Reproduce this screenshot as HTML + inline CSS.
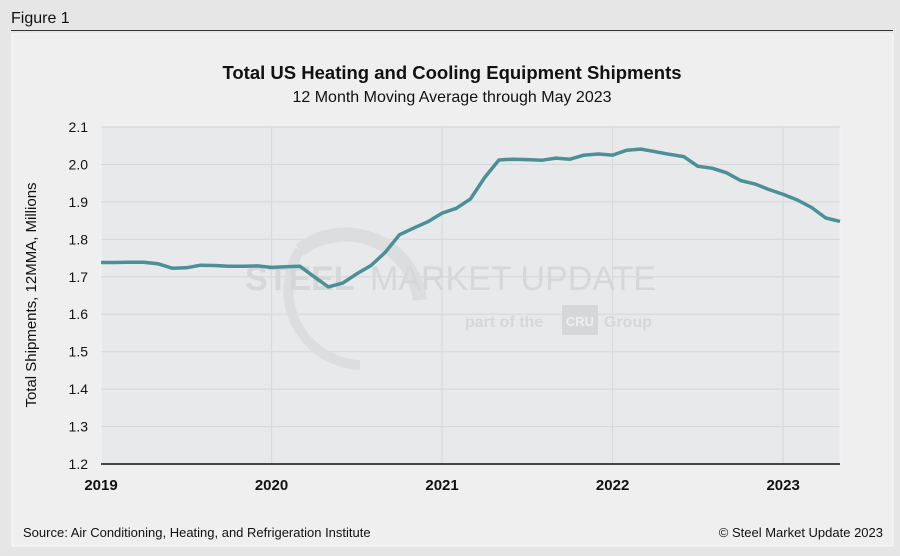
<!DOCTYPE html>
<html><head><meta charset="utf-8"><style>
body{margin:0;width:900px;height:551px;background:#e5e5e5;font-family:"Liberation Sans",sans-serif;overflow:hidden}
</style></head><body>
<svg width="900" height="551" xmlns="http://www.w3.org/2000/svg">
<rect x="0" y="0" width="900" height="551" fill="#e6e6e6"/>
<text x="11" y="23" font-size="16" fill="#111">Figure 1</text>
<line x1="11" y1="30.5" x2="893" y2="30.5" stroke="#333" stroke-width="1"/>
<rect x="12" y="34" width="881" height="512" fill="#efefef" stroke="#fafafa"/>
<text x="452" y="79" font-size="18.5" font-weight="bold" text-anchor="middle" fill="#111">Total US Heating and Cooling Equipment Shipments</text>
<text x="452" y="102" font-size="16" text-anchor="middle" fill="#111">12 Month Moving Average through May 2023</text>
<rect x="101" y="127" width="739" height="337" fill="#e8e9eb" stroke="#f3f3f3"/>
<g id="grid"></g>
<g>
<path d="M300 250 A75 75 0 0 1 420 300" fill="none" stroke="#dcdddf" stroke-width="14"/>
<path d="M300 250 A75 75 0 0 0 360 365" fill="none" stroke="#dcdddf" stroke-width="10"/>
<text x="245" y="290" font-size="34" font-weight="bold" fill="#d6d7d9">STEEL</text>
<text x="370" y="290" font-size="34" fill="#d6d7d9">MARKET UPDATE</text>
<text x="465" y="327" font-size="16" font-weight="bold" fill="#d6d7d9">part of the</text>
<rect x="562" y="305" width="36" height="30" fill="#d6d7d9"/>
<text x="580" y="326" font-size="13" font-weight="bold" fill="#eee" text-anchor="middle">CRU</text>
<text x="604" y="327" font-size="16" font-weight="bold" fill="#d6d7d9">Group</text>
</g>
<g id="axes"></g>
<path id="line" fill="none" stroke="#4a9096" stroke-width="3.5" stroke-linejoin="round"/>
<text transform="translate(36,295) rotate(-90)" font-size="15" text-anchor="middle" fill="#111">Total Shipments, 12MMA, Millions</text>
<text x="23" y="537" font-size="13" fill="#111">Source: Air Conditioning, Heating, and Refrigeration Institute</text>
<text x="883" y="537" font-size="13" fill="#111" text-anchor="end">© Steel Market Update 2023</text>
</svg>
<script>
const yTicks=[1.2,1.3,1.4,1.5,1.6,1.7,1.8,1.9,2.0,2.1];
const yTickLabels=["1.2","1.3","1.4","1.5","1.6","1.7","1.8","1.9","2.0","2.1"];
const xYears=["2019","2020","2021","2022","2023"];
const values=[1.738,1.738,1.739,1.739,1.735,1.723,1.724,1.731,1.730,1.728,1.728,1.729,
1.725,1.727,1.728,1.700,1.673,1.683,1.708,1.730,1.765,1.812,1.830,1.847,
1.870,1.883,1.908,1.965,2.012,2.014,2.013,2.011,2.017,2.014,2.025,2.028,
2.025,2.038,2.041,2.034,2.027,2.021,1.995,1.990,1.978,1.957,1.948,1.933,
1.920,1.905,1.885,1.857,1.848];
const NS="http://www.w3.org/2000/svg";
const X0=101,MPX=739/52;
const xs=i=>X0+i*MPX;
const ys=v=>464-(v-1.2)/0.9*337;
const grid=document.getElementById('grid'),axes=document.getElementById('axes');
function mk(tag,attrs,parent){const e=document.createElementNS(NS,tag);for(const k in attrs)e.setAttribute(k,attrs[k]);parent.appendChild(e);return e;}
yTicks.forEach((t,i)=>{
 const g=mk('line',{x1:X0,x2:840,y1:ys(t),y2:ys(t),stroke:'#d8d9db','stroke-width':1.2},grid);
 
 
 const l=mk('text',{x:88,y:ys(t)+5,'font-size':14,'text-anchor':'end',fill:'#111'},axes);
 l.textContent=yTickLabels[i];
 
 
});
xYears.forEach((y,i)=>{
 const x=xs(i*12);
 if(i>0){const g=mk('line',{x1:x,x2:x,y1:127,y2:464,stroke:'#d8d9db','stroke-width':1.2},grid);
 
 }
 const l=mk('text',{x:x,y:490,'font-size':15,'font-weight':'bold','text-anchor':'middle',fill:'#111'},axes);
 l.textContent=y;
 
 
});
const ax=mk('line',{x1:X0,x2:840,y1:464,y2:464,stroke:'#111','stroke-width':1.5},axes);


document.getElementById('line').setAttribute('d',values.map((v,i)=>(i?'L':'M')+xs(i).toFixed(1)+' '+ys(v).toFixed(1)).join(''));
</script>
</body></html>
